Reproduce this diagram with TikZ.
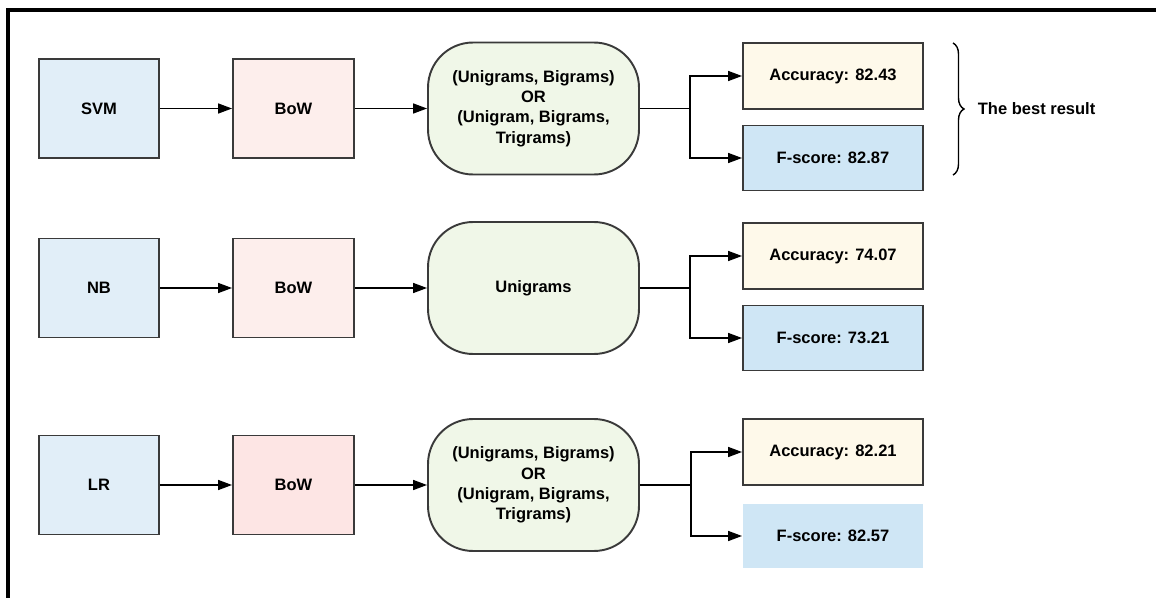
\documentclass[tikz,border=0pt]{standalone}
\usepackage{fontspec}
\setmainfont{Liberation Sans}
\usetikzlibrary{arrows.meta,positioning,decorations.pathreplacing}

\definecolor{modelblue}{HTML}{E1EEF8}
\definecolor{bowpink}{HTML}{FDEEEC}
\definecolor{bowpinkdark}{HTML}{FDE5E4}
\definecolor{ngramgreen}{HTML}{F0F7E8}
\definecolor{acccream}{HTML}{FEF9EA}
\definecolor{fsblue}{HTML}{CFE6F5}
\definecolor{edgegray}{HTML}{3A3A3A}

\begin{document}
\begin{tikzpicture}[x=0.02cm,y=-0.02cm,
% Boxes style
    box/.style={rectangle,draw=edgegray,line width=1.1pt,
		font=\fontsize{9.4}{11.5}\selectfont\bfseries,align=center},
    model/.style={box,fill=modelblue,minimum width=2.4cm,minimum height=1.98cm},
    bow/.style={box,fill=bowpink,minimum width=2.42cm,minimum height=1.98cm},
    ngram/.style={box,fill=ngramgreen,rounded corners=0.9cm,
		minimum width=4.22cm,minimum height=2.64cm},
    acc/.style={box,fill=acccream,minimum width=3.6cm,minimum height=1.32cm},
    fscore/.style={box,fill=fsblue,minimum width=3.6cm,minimum height=1.3cm},
    fsplain/.style={fscore,draw=none},
% Connector style
    arr/.style={line width=0.9pt,-{Triangle[length=2.8mm,width=2mm]}},
    line/.style={line width=0.9pt}
    ]
\useasboundingbox (0,0) rectangle (1156,598);
\clip (0,0) rectangle (1156,598);
%% Frame
    \draw[line width=1.8pt] (8,620) -- (8,10) -- (1180,10);

%% First row: SVM
    \node (svm) [model] at (99,108.5) {SVM};
    \node (bow1) [bow] at (293.5,108.5) {BoW};
    \node (ng1) [ngram] at (533.5,108.5) {(Unigrams, Bigrams)\\OR\\(Unigram, Bigrams,\\Trigrams)};
    \node (acc1) [acc] at (833,76) {Accuracy: 82.43};
    \node (fs1) [fscore] at (833,158) {F-score: 82.87};
    \coordinate (br1) at (690,108.5);

%% Second row: NB
    \node (nb) [model] at (99,288) {NB};
    \node (bow2) [bow] at (293.5,288) {BoW};
    \node (ng2) [ngram] at (533.5,288) {Unigrams};
    \node (acc2) [acc] at (833,256) {Accuracy: 74.07};
    \node (fs2) [fscore] at (833,338) {F-score: 73.21};
    \coordinate (br2) at (690,288);

%% Third row: LR
    \node (lr) [model] at (99,485) {LR};
    \node (bow3) [bow,fill=bowpinkdark] at (293.5,485) {BoW};
    \node (ng3) [ngram] at (533.5,485) {(Unigrams, Bigrams)\\OR\\(Unigram, Bigrams,\\Trigrams)};
    \node (acc3) [acc] at (833,452) {Accuracy: 82.21};
    \node (fs3) [fsplain] at (833,536) {F-score: 82.57};
    \coordinate (br3) at (691,485);

%% Edges
    \draw[arr] (svm) -- (bow1);
    \draw[arr] (bow1) -- (ng1);
    \draw[line] (ng1) -- (br1);
    \draw[arr] (br1) |- (acc1);
    \draw[arr] (br1) |- (fs1);

    \draw[arr] (nb) -- (bow2);
    \draw[arr] (bow2) -- (ng2);
    \draw[line] (ng2) -- (br2);
    \draw[arr] (br2) |- (acc2);
    \draw[arr] (br2) |- (fs2);

    \draw[arr] (lr) -- (bow3);
    \draw[arr] (bow3) -- (ng3);
    \draw[line] (ng3) -- (br3);
    \draw[arr] (br3) |- (acc3);
    \draw[arr] (br3) |- (fs3);

%% Best result brace
    \coordinate (btop) at (953,43);
    \coordinate (bbot) at (953,175);
    \draw[line width=0.8pt,decorate,decoration={brace,amplitude=0.22cm}]
		(btop) -- (bbot) coordinate[midway,xshift=0.42cm] (btip);
    \node (best) [right=0pt of btip,inner sep=2pt,
		font=\fontsize{9.4}{11.5}\selectfont\bfseries] {The best result};
\end{tikzpicture}
\end{document}
